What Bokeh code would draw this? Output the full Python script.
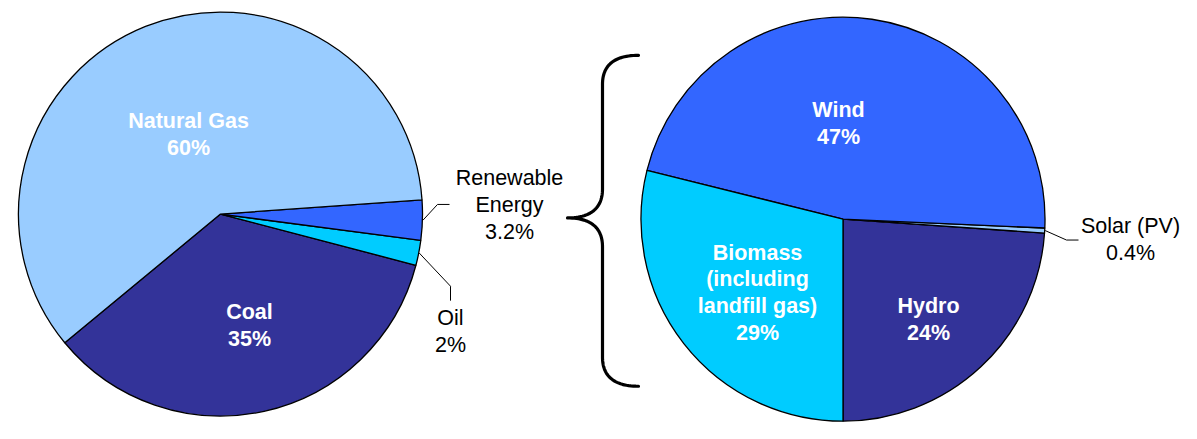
import numpy as np
from bokeh.plotting import figure
from bokeh.models import Range1d, ColumnDataSource
from bokeh.embed import file_html
from bokeh.resources import INLINE
from bokeh.core.properties import value

# ---------------- data ----------------
mix_categories = ["Coal", "Oil", "Renewable Energy", "Natural Gas"]
mix_values = [35, 2, 3.2, 60]
mix_name_lines = [["Coal"], ["Oil"], ["Renewable", "Energy"], ["Natural Gas"]]
mix_colors = ["#333399", "#00CCFF", "#3366FF", "#99CCFF"]

ren_categories = ["Hydro", "Solar (PV)", "Wind", "Biomass (including landfill gas)"]
ren_values = [24, 0.4, 47, 29]
ren_name_lines = [["Hydro"], ["Solar (PV)"], ["Wind"], ["Biomass", "(including", "landfill gas)"]]
ren_colors = ["#333399", "#99CCFF", "#3366FF", "#00CCFF"]

# ---------------- layout ----------------
FIG_W, FIG_H = 1181, 423
SX, SY = 1.0, 0.962          # reference-pixel -> figure-pixel scale
FONT = "Liberation Sans"
FONT_SIZE = "21.5px"
LINE_STEP = 28


def FX(v):
    return v * SX


def FY(v):
    return FIG_H - v * SY


left_pie = dict(cx=220, cy=222, r=210 * SY, end_deg=4.0)
right_pie = dict(cx=842.5, cy=227.3, r=210 * SY, start_deg=-90.0)

# label (x, y of first line, inside?, align)
mix_label_pos = [(249, 324, True, "center"), (450, 330, False, "center"),
                 (509, 185, False, "center"), (188, 125, True, "center")]
ren_label_pos = [(928, 318, True, "center"), (1130, 234, False, "center"),
                 (838, 114, True, "center"), (757, 262, True, "center")]

# leader elbows for outside labels
mix_leaders = {1: [(450, 297), (450, 312)], 2: [(437, 212), (449, 212)]}
ren_leaders = {1: [(1066, 249), (1078, 249)]}

p = figure(width=FIG_W, height=FIG_H,
           x_range=Range1d(0, FIG_W), y_range=Range1d(0, FIG_H),
           output_backend="svg", toolbar_location=None,
           min_border=0, outline_line_color=None)
p.axis.visible = False
p.grid.visible = False
p.background_fill_color = "white"
p.border_fill_color = "white"


def draw_pie(cats, vals, colors, name_lines, label_pos, leaders, geom, start_rad):
    vals = np.asarray(vals, dtype=float)
    fr = vals / vals.sum()
    ang = fr * 2 * np.pi
    ends = start_rad + np.cumsum(ang)
    starts = ends - ang
    cx, cy = FX(geom["cx"]), FY(geom["cy"])
    src = ColumnDataSource(dict(
        x=[cx] * len(vals), y=[cy] * len(vals),
        start=starts, end=ends, color=colors, cat=cats))
    p.wedge(x="x", y="y", radius=geom["r"], start_angle="start", end_angle="end",
            fill_color="color", line_color="black", line_width=1.3, source=src)
    for i, v in enumerate(vals):
        lines = list(name_lines[i]) + [f"{v:g}%"]
        lx, ly, inside, align = label_pos[i]
        xs = [FX(lx)] * len(lines)
        ys = [FY(ly + k * LINE_STEP) for k in range(len(lines))]
        p.text(x=xs, y=ys, text=lines, text_font=value(FONT), text_font_size=FONT_SIZE,
               text_font_style="bold" if inside else "normal",
               text_color="white" if inside else "black",
               text_align=align, text_baseline="middle")
        if i in leaders:
            mid = (starts[i] + ends[i]) / 2
            sx = cx + (geom["r"] + 0.5) * np.cos(mid)
            sy = cy + (geom["r"] + 0.5) * np.sin(mid)
            pts = leaders[i]
            p.line(x=[sx] + [FX(q[0]) for q in pts], y=[sy] + [FY(q[1]) for q in pts],
                   line_color="black", line_width=1)


lv = np.asarray(mix_values, dtype=float)
left_start = np.deg2rad(left_pie["end_deg"]) - (lv[:-1].sum() / lv.sum()) * 2 * np.pi
draw_pie(mix_categories, mix_values, mix_colors, mix_name_lines, mix_label_pos,
         mix_leaders, left_pie, left_start)
draw_pie(ren_categories, ren_values, ren_colors, ren_name_lines, ren_label_pos,
         ren_leaders, right_pie, np.deg2rad(right_pie["start_deg"]))


# curly brace linking Renewable Energy to the breakdown pie
def bez(p0, p1, p2, p3, n=30):
    t = np.linspace(0, 1, n)[:, None]
    a, b, c, d = map(np.array, (p0, p1, p2, p3))
    return ((1 - t) ** 3) * a + 3 * ((1 - t) ** 2) * t * b + 3 * (1 - t) * t ** 2 * c + t ** 3 * d


bx_end, bx_v, bx_tip = 638, 602, 567
b_top, b_tip, b_bot = 57, 226, 401
segs = [
    bez((bx_end, b_top), (612, b_top), (bx_v, b_top + 12), (bx_v, b_top + 30)),
    np.array([[bx_v, b_top + 30], [bx_v, b_tip - 30]]),
    bez((bx_v, b_tip - 30), (bx_v, b_tip - 10), (590, b_tip), (bx_tip, b_tip)),
    bez((bx_tip, b_tip), (590, b_tip), (bx_v, b_tip + 10), (bx_v, b_tip + 30)),
    np.array([[bx_v, b_tip + 30], [bx_v, b_bot - 30]]),
    bez((bx_v, b_bot - 30), (bx_v, b_bot - 12), (612, b_bot), (bx_end, b_bot)),
]
path = np.vstack(segs)
p.line(x=FX(path[:, 0]), y=FY(path[:, 1]), line_color="black", line_width=3.2,
       line_join="round", line_cap="round")

open("out.html", "w").write(file_html(p, INLINE))
